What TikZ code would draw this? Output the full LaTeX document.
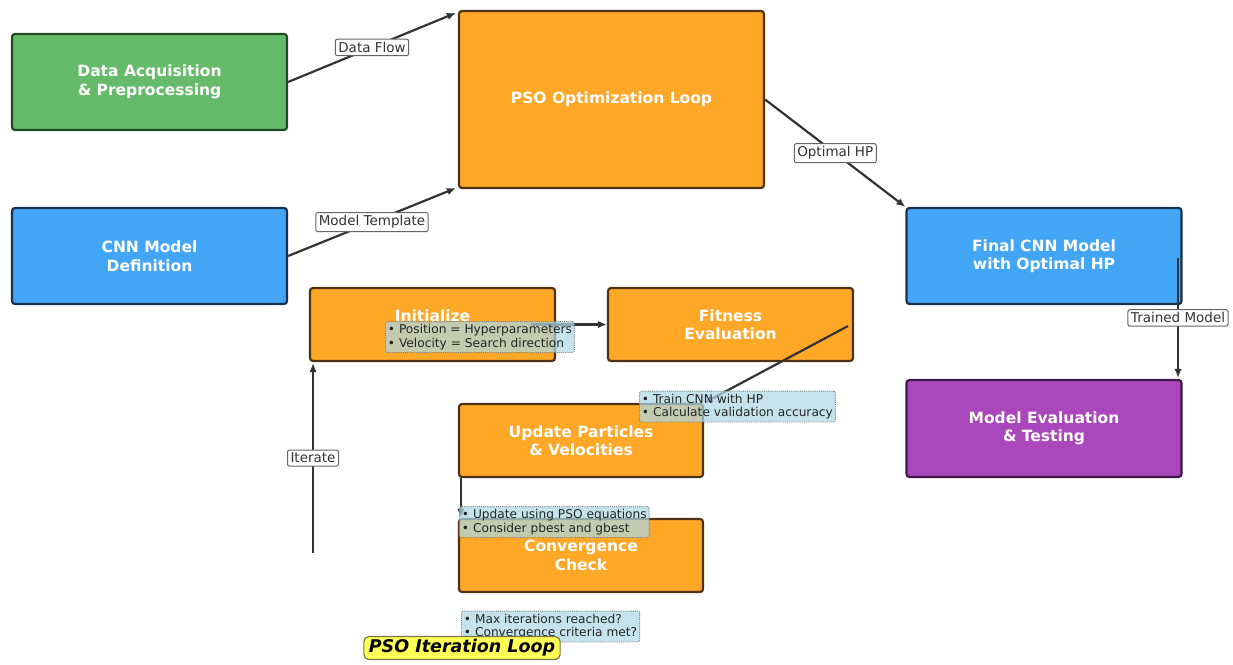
\documentclass[tikz,border=0pt]{standalone}
\usepackage{fontspec}
\setmainfont{DejaVu Sans}
\usetikzlibrary{arrows.meta}

\definecolor{greenfill}{HTML}{66BB6A}
\definecolor{greenedge}{HTML}{1F4A22}
\definecolor{bluefill}{HTML}{42A5F5}
\definecolor{blueedge}{HTML}{17324F}
\definecolor{orangefill}{HTML}{FFA726}
\definecolor{orangeedge}{HTML}{4E3212}
\definecolor{purplefill}{HTML}{AB47BC}
\definecolor{purpleedge}{HTML}{3E1948}
\definecolor{notefill}{HTML}{ADD8E6}
\definecolor{titlefill}{HTML}{FFFF55}
\definecolor{linecol}{HTML}{333333}

\tikzset{
  block/.style={draw, line width=2.2pt, rounded corners=3pt, text=white,
    font=\bfseries\fontsize{15.5}{18.5}\selectfont, align=center, inner sep=0pt},
  bigblock/.style={block, minimum width=275pt, minimum height=96pt},
  smallblock/.style={block, fill=orangefill, draw=orangeedge,
    minimum width=245pt, minimum height=73pt},
  conn/.style={draw=linecol, line width=2.2pt,
    -{Latex[length=9pt,width=7.5pt]}},
  lbl/.style={fill=white, draw=gray!80!black, line width=1pt, rounded corners=2pt,
    inner xsep=3pt, inner ysep=3pt, text=black!80,
    font=\fontsize{13.5}{15}\selectfont},
  note/.style={fill=notefill, fill opacity=0.72, text opacity=1, draw=gray,
    densely dotted, line width=0.9pt, rounded corners=2pt, align=left,
    inner xsep=2.5pt, inner ysep=2.8pt, anchor=west, text=black!85,
    font=\fontsize{12.2}{13.5}\selectfont},
  titlebox/.style={fill=titlefill, draw=black!60!yellow, line width=1.2pt,
    rounded corners=5pt, inner xsep=5pt, inner ysep=3pt, text=black,
    font=\bfseries\itshape\fontsize{17.5}{20}\selectfont}
}

\begin{document}
\begin{tikzpicture}[x=1pt, y=-1pt]
\useasboundingbox (0,0) rectangle (1233,664);

% main pipeline blocks
\node[bigblock, fill=greenfill, draw=greenedge] (data) at (149.5,82)
  {Data Acquisition\\\& Preprocessing};
\node[bigblock, fill=bluefill, draw=blueedge] (cnn) at (149.5,256)
  {CNN Model\\Definition};
\node[block, fill=orangefill, draw=orangeedge, minimum width=305pt,
  minimum height=177pt] (pso) at (611.5,99.5) {PSO Optimization Loop};
\node[bigblock, fill=bluefill, draw=blueedge] (final) at (1044,256)
  {Final CNN Model\\with Optimal HP};
\node[bigblock, fill=purplefill, draw=purpleedge, minimum height=97pt] (eval)
  at (1044,428.5) {Model Evaluation\\\& Testing};

% PSO iteration steps
\node[smallblock] (init) at (432.5,324.5) {Initialize\\\mbox{}};
\node[smallblock] (fit) at (730.5,324.5) {Fitness\\Evaluation};
\node[smallblock, minimum width=244pt] (upd) at (581,440.5)
  {Update Particles\\\& Velocities};
\node[smallblock, minimum width=244pt] (conv) at (581,555.5)
  {Convergence\\Check};

% free connector ends
\coordinate (tm) at (1178,258);
\coordinate (fe) at (848,326);
\coordinate (it) at (313,553);

% pipeline connectors
\draw[conn] (data.east) -- ([xshift=-2pt,yshift=-3pt]pso.north west)
  node[lbl, midway] {Data Flow};
\draw[conn] (cnn.east) -- ([xshift=-2pt,yshift=1pt]pso.south west)
  node[lbl, midway] {Model Template};
\draw[conn] (pso.east) -- (final.north west)
  node[lbl, midway] {Optimal HP};
\draw[conn] (tm) -- ([yshift=1pt]tm |- eval.north)
  node[lbl, midway] {Trained Model};

% iteration connectors
\draw[conn] ([xshift=-25pt]init.east) -- (fit.west);
\draw[conn] (fe) -- (upd.north east);
\draw[conn] ([xshift=3pt]upd.south west) -- ([xshift=3pt]conv.north west);
\draw[conn] (it) -- ([yshift=-1pt]it |- init.south)
  node[lbl, midway] {Iterate};

% step notes
\node[note] (ninit) at (385,337)
  {• Position = Hyperparameters\\• Velocity = Search direction};
\node[note] (nfit) at (639,406.5)
  {• Train CNN with HP\\• Calculate validation accuracy};
\node[note] (nupd) at (459,522)
  {• Update using PSO equations\\• Consider pbest and gbest};
\node[note] (nconv) at (461,626.5)
  {• Max iterations reached?\\• Convergence criteria met?};

% loop title
\node[titlebox] (title) at (462,648) {PSO Iteration Loop};
\end{tikzpicture}
\end{document}
